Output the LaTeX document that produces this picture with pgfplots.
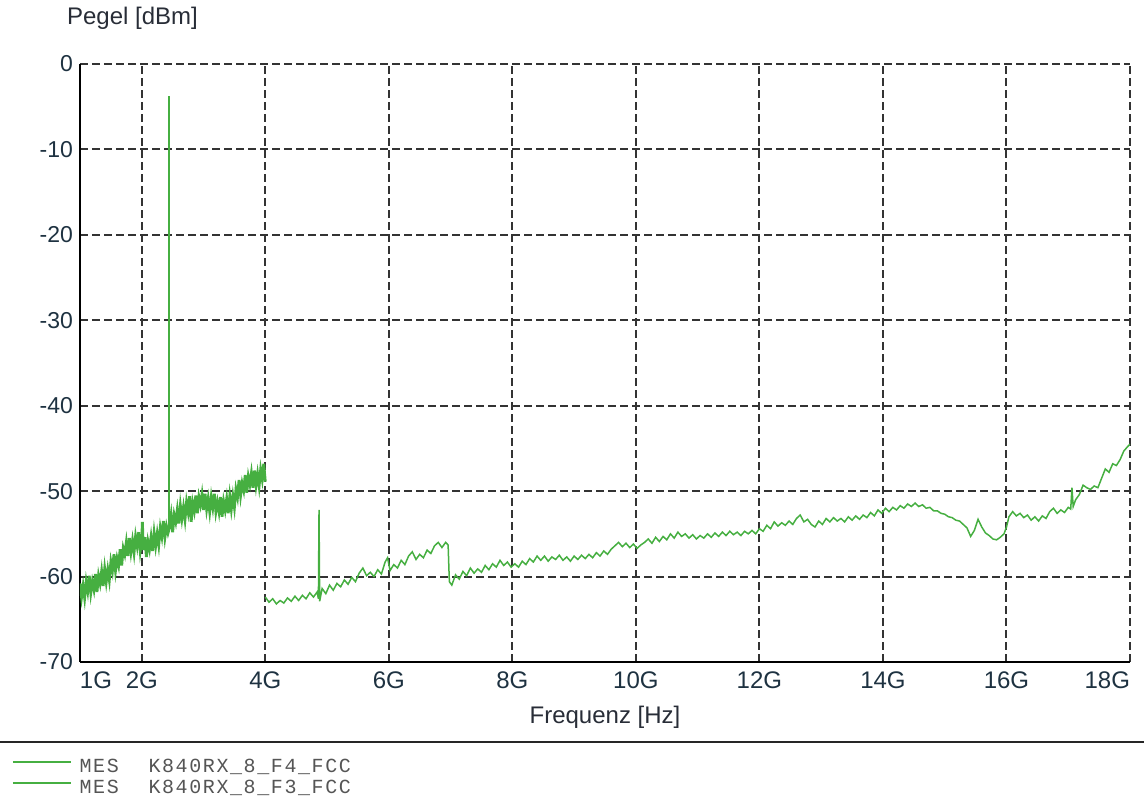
\documentclass[border=0pt]{standalone}
\usepackage{fontspec}
\setmainfont{Liberation Sans}
\newfontfamily\legfont[LetterSpace=8]{Liberation Mono}
\usepackage{pgfplots}
\pgfplotsset{compat=1.18}
\definecolor{trace}{RGB}{70,175,65}
\definecolor{tickcol}{RGB}{30,50,65}
\definecolor{labcol}{RGB}{40,45,55}
\definecolor{legcol}{RGB}{85,85,85}
\begin{document}
\begin{tikzpicture}
\begin{axis}[
  name=ax,
  scale only axis,
  width=525pt, height=299pt,
  xmin=1, xmax=18, ymin=-70, ymax=0,
  axis x line*=bottom, axis y line*=left,
  axis line style={-, black, line width=0.9pt},
  xtick={1,2,4,6,8,10,12,14,16,18},
  xticklabels={\makebox[0pt][l]{1G},2G,4G,6G,8G,10G,12G,14G,16G,\makebox[0pt][r]{18G}},
  ytick={-70,-60,-50,-40,-30,-20,-10,0},
  major tick length=0pt,
  grid=major,
  major grid style={black!80, line width=1pt, dash pattern=on 4pt off 2pt},
  xticklabel style={font=\fontsize{12}{14}\selectfont, text=tickcol, yshift=-1.5pt},
  yticklabel style={font=\fontsize{11.5}{13}\selectfont, text=tickcol},
  /pgf/number format/assume math mode=true,
  xlabel={Frequenz [Hz]},
  xlabel style={at={(axis description cs:0.5,-0.092)}, anchor=center, font=\fontsize{12}{14}\selectfont, text=labcol},
  ylabel={Pegel [dBm]},
  ylabel style={rotate=-90, at={(axis description cs:-0.019,1.077)}, anchor=west, font=\fontsize{12}{14}\selectfont, text=labcol},
  legend image code/.code={\draw[#1, line width=0.6pt] (0pt,3pt) -- (29pt,3pt);},
  legend style={at={(axis description cs:-0.0648,-0.1948)}, anchor=west, draw=none, fill=none, inner sep=0pt, row sep=1.5pt, column sep=4pt,
    nodes={inner sep=0pt, text height=7pt, text depth=2pt, anchor=west, font=\legfont\fontsize{10}{11}\selectfont, text=legcol}},
  legend cell align=left,
]
\addplot[trace, line width=0.75pt] coordinates {
(4.00,-62.4) (4.06,-63.0) (4.12,-62.6) (4.18,-63.2) (4.24,-62.8) (4.30,-63.1) (4.36,-62.5) (4.42,-62.9)
(4.48,-62.3) (4.54,-62.8) (4.60,-62.2) (4.66,-62.6) (4.72,-61.9) (4.78,-62.4) (4.84,-61.8) (4.86,-62.6)
(4.87,-52.2) (4.88,-62.9) (4.92,-61.4) (4.98,-62.0) (5.04,-61.0) (5.10,-61.6) (5.16,-60.8) (5.22,-61.2)
(5.28,-60.4) (5.34,-60.9) (5.40,-60.1) (5.46,-60.6) (5.52,-59.6) (5.58,-59.0) (5.64,-59.9) (5.70,-59.5)
(5.76,-60.0) (5.82,-59.2) (5.88,-59.7) (5.94,-58.3) (5.98,-57.8) (6.02,-59.3) (6.08,-58.6) (6.14,-59.0)
(6.20,-58.1) (6.26,-58.6) (6.32,-57.6) (6.38,-57.1) (6.44,-58.0) (6.50,-57.4) (6.56,-57.8) (6.62,-56.9)
(6.68,-57.3) (6.74,-56.4) (6.80,-56.0) (6.86,-56.6) (6.92,-56.0) (6.96,-56.3) (6.98,-60.6) (7.02,-61.0)
(7.08,-59.8) (7.14,-60.3) (7.20,-59.4) (7.26,-59.9) (7.32,-59.0) (7.38,-59.6) (7.44,-59.1) (7.50,-59.5)
(7.56,-58.7) (7.62,-59.2) (7.68,-58.5) (7.74,-58.9) (7.80,-58.1) (7.86,-58.7) (7.92,-58.3) (7.98,-58.9)
(8.04,-58.5) (8.10,-58.9) (8.16,-58.2) (8.22,-58.6) (8.28,-57.9) (8.34,-58.3) (8.40,-57.6) (8.46,-58.1)
(8.52,-57.6) (8.58,-58.2) (8.64,-57.7) (8.70,-58.0) (8.76,-57.5) (8.82,-58.1) (8.88,-57.7) (8.94,-58.2)
(9.00,-57.6) (9.06,-58.0) (9.12,-57.5) (9.18,-57.9) (9.24,-57.4) (9.30,-57.8) (9.36,-57.2) (9.42,-57.6)
(9.48,-57.0) (9.54,-57.4) (9.60,-56.8) (9.66,-56.4) (9.72,-56.0) (9.78,-56.5) (9.84,-56.1) (9.90,-56.6)
(9.96,-56.2) (10.02,-56.7) (10.08,-56.3) (10.14,-56.0) (10.20,-55.6) (10.26,-56.1) (10.32,-55.4) (10.38,-55.9)
(10.44,-55.3) (10.50,-55.7) (10.56,-55.0) (10.62,-55.5) (10.68,-54.8) (10.74,-55.3) (10.80,-55.0) (10.86,-55.5)
(10.92,-55.1) (10.98,-55.6) (11.04,-55.2) (11.10,-55.5) (11.16,-55.0) (11.22,-55.4) (11.28,-54.9) (11.34,-55.3)
(11.40,-54.8) (11.46,-55.2) (11.52,-54.7) (11.58,-55.1) (11.64,-54.8) (11.70,-55.2) (11.76,-54.7) (11.82,-55.0)
(11.88,-54.6) (11.94,-55.0) (12.00,-54.4) (12.06,-54.7) (12.12,-54.0) (12.18,-54.4) (12.24,-53.6) (12.30,-54.1)
(12.36,-53.7) (12.42,-54.0) (12.48,-53.5) (12.54,-53.9) (12.60,-53.2) (12.66,-52.8) (12.72,-53.6) (12.78,-53.3)
(12.84,-53.9) (12.90,-54.2) (12.96,-53.5) (13.02,-53.9) (13.08,-53.2) (13.14,-53.6) (13.20,-53.1) (13.26,-53.5)
(13.32,-53.2) (13.38,-53.6) (13.44,-53.0) (13.50,-53.4) (13.56,-52.9) (13.62,-53.3) (13.68,-52.8) (13.74,-53.1)
(13.80,-52.5) (13.86,-52.9) (13.92,-52.2) (13.98,-52.6) (14.04,-52.0) (14.10,-52.4) (14.16,-51.9) (14.22,-52.2)
(14.28,-51.7) (14.34,-52.0) (14.40,-51.5) (14.46,-51.8) (14.52,-51.4) (14.58,-51.8) (14.64,-51.6) (14.70,-52.0)
(14.76,-51.9) (14.82,-52.3) (14.88,-52.3) (14.94,-52.6) (15.00,-52.7) (15.06,-53.0) (15.12,-53.1) (15.18,-53.4)
(15.24,-53.5) (15.30,-53.9) (15.36,-54.3) (15.42,-55.3) (15.48,-54.6) (15.54,-53.3) (15.60,-54.2) (15.66,-54.9)
(15.72,-55.2) (15.78,-55.6) (15.84,-55.7) (15.90,-55.4) (15.96,-55.0) (16.00,-54.2) (16.04,-53.0) (16.10,-52.4)
(16.16,-52.9) (16.22,-52.6) (16.28,-53.1) (16.34,-52.8) (16.40,-53.4) (16.46,-53.0) (16.52,-53.5) (16.58,-52.9)
(16.64,-53.2) (16.70,-52.4) (16.76,-52.0) (16.82,-52.6) (16.88,-52.2) (16.94,-52.5) (17.00,-51.9) (17.04,-52.1)
(17.06,-49.6) (17.08,-51.8) (17.12,-51.0) (17.18,-50.4) (17.24,-49.3) (17.30,-49.6) (17.36,-49.8) (17.42,-49.4)
(17.48,-49.6) (17.54,-48.5) (17.60,-47.4) (17.66,-47.8) (17.72,-46.8) (17.78,-47.0) (17.84,-46.3) (17.90,-45.3)
(17.96,-44.8) (18.00,-44.5)
};
\addlegendentry{\makebox[34.5pt][l]{MES}K840RX\_8\_F4\_FCC}
\addplot[trace, line width=1.4pt] coordinates {
(1.000,-60.8) (1.025,-62.4) (1.050,-61.1) (1.075,-62.5) (1.100,-60.6) (1.125,-61.7) (1.150,-59.9) (1.175,-61.9)
(1.200,-60.6) (1.225,-61.5) (1.250,-59.7) (1.275,-61.8) (1.300,-59.9) (1.325,-60.8) (1.350,-59.4) (1.375,-61.1)
(1.400,-59.1) (1.425,-60.6) (1.450,-59.2) (1.475,-60.4) (1.500,-58.3) (1.525,-59.3) (1.550,-57.4) (1.575,-59.3)
(1.600,-57.9) (1.625,-58.7) (1.650,-56.8) (1.675,-58.7) (1.700,-56.7) (1.725,-57.4) (1.750,-56.0) (1.775,-57.6)
(1.800,-55.5) (1.825,-57.1) (1.850,-55.8) (1.875,-57.2) (1.900,-55.3) (1.925,-56.4) (1.950,-54.8) (1.975,-57.0)
(2.000,-55.7) (2.010,-53.6) (2.025,-56.9) (2.050,-55.4) (2.075,-57.7) (2.100,-55.9) (2.125,-56.8) (2.150,-55.4)
(2.175,-57.0) (2.200,-54.9) (2.225,-56.4) (2.250,-55.0) (2.275,-56.3) (2.300,-54.3) (2.325,-55.3) (2.350,-53.5)
(2.375,-55.4) (2.400,-54.1) (2.425,-54.9) (2.440,-54.5) (2.446,-54.3)
(2.452,-54.0) (2.475,-52.8) (2.500,-54.8)
(2.525,-52.8) (2.550,-53.6) (2.575,-52.2) (2.600,-53.8) (2.625,-51.7) (2.650,-53.2) (2.675,-51.9) (2.700,-53.3)
(2.725,-51.3) (2.750,-52.4) (2.775,-50.6) (2.800,-53.6) (2.825,-51.4) (2.850,-52.3) (2.875,-50.5) (2.900,-52.6)
(2.925,-50.7) (2.950,-51.6) (2.975,-50.4) (3.000,-52.2) (3.025,-50.3) (3.050,-52.1) (3.075,-50.9) (3.100,-52.4)
(3.125,-50.7) (3.150,-51.9) (3.175,-50.3) (3.200,-52.4) (3.225,-51.3) (3.250,-52.4) (3.275,-50.7) (3.300,-53.0)
(3.325,-51.2) (3.350,-52.2) (3.375,-50.9) (3.400,-52.6) (3.425,-50.6) (3.450,-52.1) (3.475,-50.6) (3.500,-51.9)
(3.525,-49.8) (3.550,-50.7) (3.575,-48.7) (3.600,-50.5) (3.625,-49.1) (3.650,-49.9) (3.675,-48.1) (3.700,-50.2)
(3.725,-48.3) (3.750,-49.2) (3.775,-47.9) (3.800,-49.6) (3.825,-47.6) (3.850,-49.3) (3.875,-48.0) (3.900,-49.4)
(3.925,-47.5) (3.950,-48.6) (3.975,-46.8) (4.000,-48.9)
};
\addlegendentry{\makebox[34.5pt][l]{MES}K840RX\_8\_F3\_FCC}
\addplot[trace, line width=1pt, forget plot] coordinates {(2.446,-54.3) (2.446,-3.8)};
\end{axis}
\draw[line width=1pt, black!85] ([xshift=-40pt,yshift=-40pt]ax.south west) -- ([xshift=7pt,yshift=-40pt]ax.south east);
\pgfresetboundingbox
\path ([xshift=-40pt,yshift=-69pt]ax.south west) rectangle ([xshift=7pt,yshift=32pt]ax.north east);
\end{tikzpicture}
\end{document}
